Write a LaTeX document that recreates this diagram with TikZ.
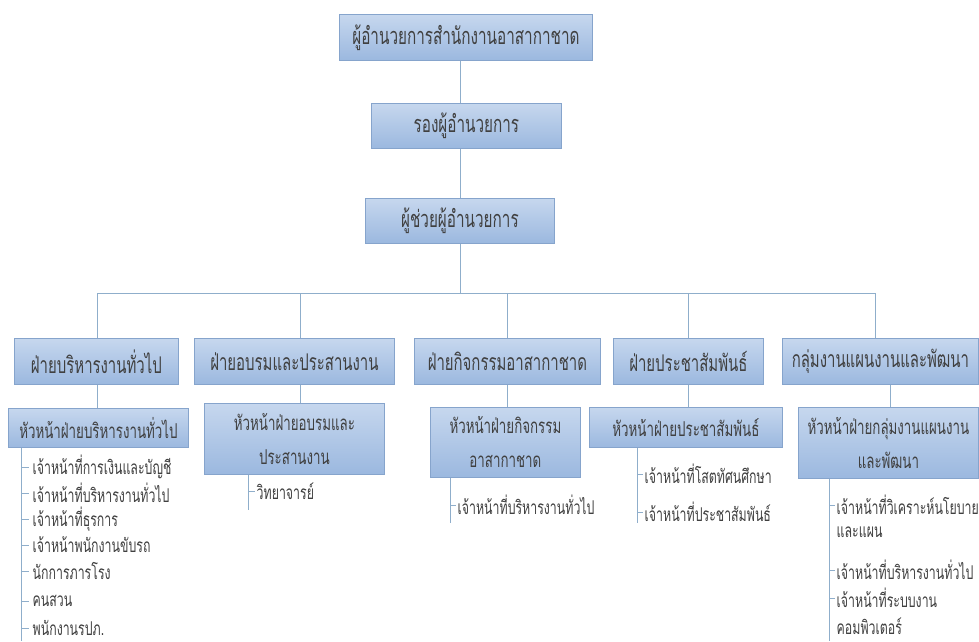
\documentclass[tikz,border=0pt]{standalone}
\usepackage{fontspec}
\setmainfont[Script=Thai]{Loma}
\newfontfamily\thai[Script=Thai,FakeStretch=0.65]{Loma}
\definecolor{boxtop}{HTML}{C6D7EE}
\definecolor{boxbot}{HTML}{9BB8DF}
\definecolor{boxline}{HTML}{86A4CC}
\definecolor{conncol}{HTML}{8FAECB}
\definecolor{txt}{HTML}{404040}
\tikzset{
  orgbox/.style={draw=boxline, line width=0.8pt, top color=boxtop, bottom color=boxbot,
    text=txt, inner sep=0pt, align=center, anchor=north west, font=\thai},
  conn/.style={draw=conncol, line width=0.9pt},
  item/.style={anchor=west, inner sep=1.5pt, text=txt, font=\thai\fontsize{19}{22}\selectfont},
  cont/.style={anchor=west, inner sep=1.5pt, text=txt, font=\thai\fontsize{19}{22}\selectfont},
}
\begin{document}
\begin{tikzpicture}[x=1pt,y=-1pt]
\useasboundingbox (0,0) rectangle (979,641);
\fill[white] (0,0) rectangle (979,641);
% top levels
\node[orgbox, minimum width=253pt, minimum height=46pt, font=\thai\fontsize{23.5}{28}\selectfont] (top) at (339,14) {ผู้อำนวยการสำนักงานอาสากาชาด};
\node[orgbox, minimum width=190pt, minimum height=45pt, font=\thai\fontsize{23.5}{28}\selectfont] (dep) at (371,103) {รองผู้อำนวยการ};
\node[orgbox, minimum width=189pt, minimum height=45pt, font=\thai\fontsize{23.5}{28}\selectfont] (ast) at (365,198) {ผู้ช่วยผู้อำนวยการ};
\coordinate (cx) at (460,0);
\coordinate (bus) at (460,293);
\coordinate (busL) at (97,293);
\coordinate (busR) at (875,293);
\draw[conn] (top.south -| cx) -- (dep.north -| cx);
\draw[conn] (dep.south -| cx) -- (ast.north -| cx);
\draw[conn] (ast.south -| cx) -- (bus);
\draw[conn] (busL) -- (busR);
% level 1
\tikzset{l1/.style={orgbox, minimum height=46pt, font=\thai\fontsize{23}{27}\selectfont}}
\node[l1, minimum width=164pt] (A) at (14,338) {ฝ่ายบริหารงานทั่วไป};
\node[l1, minimum width=200pt] (B) at (194,338) {ฝ่ายอบรมและประสานงาน};
\node[l1, minimum width=186pt] (C) at (414,338) {ฝ่ายกิจกรรมอาสากาชาด};
\node[l1, minimum width=150pt] (D) at (613,338) {ฝ่ายประชาสัมพันธ์};
\node[l1, minimum width=196pt] (E) at (782,338) {กลุ่มงานแผนงานและพัฒนา};
\coordinate (dA) at (97,293);
\coordinate (dB) at (300,293);
\coordinate (dC) at (507,293);
\coordinate (dD) at (688,293);
\coordinate (dE) at (875,293);
\foreach \n in {A,B,C,D,E} {\draw[conn] (d\n) -- (\n.north -| d\n);}
% level 2
\tikzset{l2/.style={orgbox, font=\thai\fontsize{20.5}{34}\selectfont}}
\node[l2, minimum width=180pt, minimum height=39pt] (A2) at (8,408) {หัวหน้าฝ่ายบริหารงานทั่วไป};
\node[l2, minimum width=180pt, minimum height=71pt] (B2) at (204,403) {หัวหน้าฝ่ายอบรมและ\\ประสานงาน};
\node[l2, minimum width=150pt, minimum height=70pt] (C2) at (430,407) {หัวหน้าฝ่ายกิจกรรม\\อาสากาชาด};
\node[l2, minimum width=193pt, minimum height=40pt] (D2) at (589,407) {หัวหน้าฝ่ายประชาสัมพันธ์};
\node[l2, minimum width=180pt, minimum height=71pt] (E2) at (798,407) {หัวหน้าฝ่ายกลุ่มงานแผนงาน\\และพัฒนา};
\draw[conn] (A.south -| dA) -- (A2.north -| dA);
\draw[conn] (B.south -| dB) -- (B2.north -| dB);
\draw[conn] (C.south -| dC) -- (C2.north -| dC);
\draw[conn] (D.south -| dD) -- (D2.north -| dD);
\coordinate (eE) at (890,0);
\draw[conn] (E.south -| eE) -- (E2.north -| eE);
% lists
\coordinate (LA) at (21,641);
\coordinate (LB) at (248,510);
\coordinate (LC) at (450,523);
\coordinate (LD) at (637,523);
\coordinate (LE) at (829,641);
\draw[conn] (A2.south -| LA) -- (LA);
\draw[conn] (B2.south -| LB) -- (LB);
\draw[conn] (C2.south -| LC) -- (LC);
\draw[conn] (D2.south -| LD) -- (LD);
\draw[conn] (E2.south -| LE) -- (LE);
% column A items
\node[item] (a1) at (29,467) {\hspace{2pt}เจ้าหน้าที่การเงินและบัญชี};
\node[item] (a2) at (29,493) {\hspace{2pt}เจ้าหน้าที่บริหารงานทั่วไป};
\node[item] (a3) at (29,519) {\hspace{2pt}เจ้าหน้าที่ธุรการ};
\node[item] (a4) at (29,545) {\hspace{2pt}เจ้าหน้าพนักงานขับรถ};
\node[item] (a5) at (29,571) {\hspace{2pt}นักการภารโรง};
\node[item] (a6) at (29,601) {\hspace{2pt}คนสวน};
\node[item] (a7) at (29,628) {\hspace{2pt}พนักงานรปภ.};
\foreach \i in {1,...,7} {\draw[conn] (a\i.west -| LA) -- (a\i.west);}
% column B
\node[item] (b1) at (255,491) {วิทยาจารย์};
\draw[conn] (b1.west -| LB) -- (b1.west);
% column C
\node[item] (c1) at (456,505) {เจ้าหน้าที่บริหารงานทั่วไป};
\draw[conn] (c1.west -| LC) -- (c1.west);
% column D
\node[item] (d1) at (643,474) {เจ้าหน้าที่โสตทัศนศึกษา};
\node[item] (d2) at (643,512) {เจ้าหน้าที่ประชาสัมพันธ์};
\draw[conn] (d1.west -| LD) -- (d1.west);
\draw[conn] (d2.west -| LD) -- (d2.west);
% column E
\node[item] (e1) at (835,505) {เจ้าหน้าที่วิเคราะห์นโยบาย};
\node[cont] (e1b) at (835,532) {และแผน};
\node[item] (e2) at (835,570) {เจ้าหน้าที่บริหารงานทั่วไป};
\node[item] (e3) at (835,598) {เจ้าหน้าที่ระบบงาน};
\node[cont] (e3b) at (835,626) {คอมพิวเตอร์};
\draw[conn] (e1.west -| LE) -- (e1.west);
\draw[conn] (e2.west -| LE) -- (e2.west);
\draw[conn] (e3.west -| LE) -- (e3.west);
\end{tikzpicture}
\end{document}
